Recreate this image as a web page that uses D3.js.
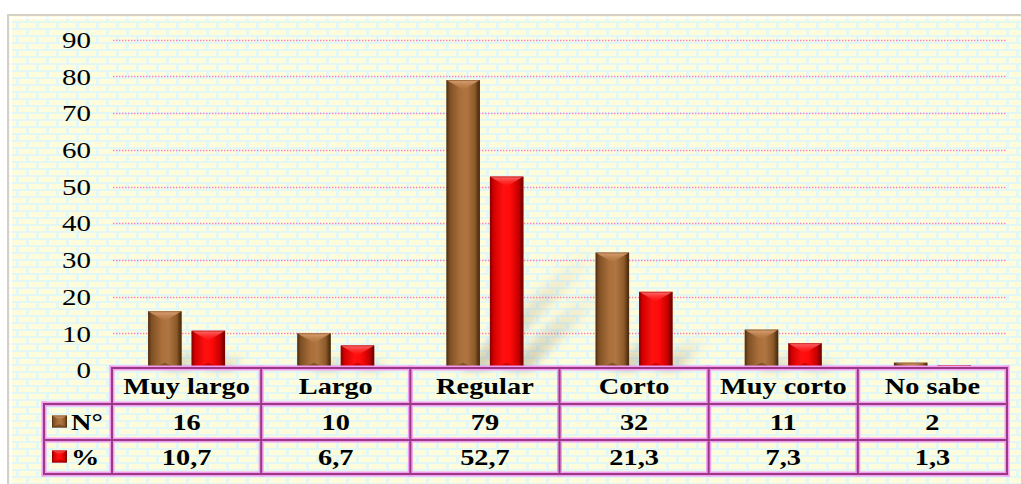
<!DOCTYPE html>
<html>
<head>
<meta charset="utf-8">
<script src="https://cdn.jsdelivr.net/npm/d3@7"></script>
<style>
  html, body { margin: 0; padding: 0; background: #ffffff; }
  svg { display: block; }
  text { font-family: "Liberation Serif", "Times New Roman", serif; fill: #000; }
</style>
</head>
<body>
<svg id="chart" width="1021" height="484"></svg>
<script>
// Data
const categories = ["Muy largo", "Largo", "Regular", "Corto", "Muy corto", "No sabe"];
const counts = [16, 10, 79, 32, 11, 2];
const percents = [10.7, 6.7, 52.7, 21.3, 7.3, 1.3];
const seriesNames = ["N°", "%"];
const yTicks = [0, 10, 20, 30, 40, 50, 60, 70, 80, 90];

const W = 1021, H = 484;
const svg = d3.select("#chart");
const defs = svg.append("defs");

// Brick background pattern
const pat = defs.append("pattern").attr("id", "bricks")
  .attr("patternUnits", "userSpaceOnUse").attr("width", 20).attr("height", 14)
  .attr("x", 8).attr("y", 15);
pat.append("rect").attr("width", 20).attr("height", 14).attr("fill", "#e3f8f4");
pat.append("rect").attr("x", 1).attr("y", 1).attr("width", 17).attr("height", 5).attr("fill", "#fffcdb");
pat.append("rect").attr("x", -9).attr("y", 8).attr("width", 17).attr("height", 5).attr("fill", "#fffcdb");
pat.append("rect").attr("x", 11).attr("y", 8).attr("width", 17).attr("height", 5).attr("fill", "#fffcdb");

// Bar gradients (bevelled look)
const palettes = {
  brown: { stops: ["#4e2c0e", "#7e4f24", "#a96f3a", "#b07641", "#8d5a2a", "#3e2208"], cap: ["#e2a576", "#b27846"], base: "#5e3713" },
  red:   { stops: ["#7a0000", "#d00000", "#ff1010", "#ff0a0a", "#c80000", "#5a0000"], cap: ["#ff7070", "#ff1a1a"], base: "#9a0000" }
};
Object.entries(palettes).forEach(([k, p]) => {
  const g = defs.append("linearGradient").attr("id", "body-" + k).attr("x1", 0).attr("x2", 1).attr("y1", 0).attr("y2", 0);
  [0, 0.1, 0.4, 0.6, 0.85, 1].forEach((o, i) => g.append("stop").attr("offset", o).attr("stop-color", p.stops[i]));
  const c = defs.append("linearGradient").attr("id", "cap-" + k).attr("x1", 0).attr("x2", 0).attr("y1", 0).attr("y2", 1);
  c.append("stop").attr("offset", 0).attr("stop-color", p.cap[0]);
  c.append("stop").attr("offset", 1).attr("stop-color", p.cap[1]).attr("stop-opacity", 0.2);
});
const sg = defs.append("linearGradient").attr("id", "shadowGrad").attr("x1", 0).attr("x2", 0).attr("y1", 1).attr("y2", 0);
sg.append("stop").attr("offset", 0).attr("stop-color", "#7a7460").attr("stop-opacity", 0.35);
sg.append("stop").attr("offset", 1).attr("stop-color", "#7a7460").attr("stop-opacity", 0);
defs.append("filter").attr("id", "soft").attr("x", "-50%").attr("y", "-50%").attr("width", "200%").attr("height", "200%")
  .append("feGaussianBlur").attr("stdDeviation", 5);
const glow = defs.append("filter").attr("id", "glow").attr("x", "-5%").attr("y", "-5%").attr("width", "110%").attr("height", "110%");
glow.append("feGaussianBlur").attr("stdDeviation", 0.6);

// Frame
svg.append("rect").attr("x", 8).attr("y", 15).attr("width", W).attr("height", H)
  .attr("fill", "url(#bricks)").attr("stroke", "#d4d0c6").attr("stroke-width", 2);
svg.append("path").attr("d", `M10,18 H${W} M11,17 V${H}`).attr("stroke", "#ffffff").attr("stroke-width", 2).attr("opacity", 0.9);

// Scales
const x = d3.scaleBand().domain(categories).range([112, 1007]).padding(0);
const x1 = d3.scaleBand().domain(seriesNames).range([0, x.bandwidth()]).paddingInner(0.23).paddingOuter(0.83);
const y = d3.scaleLinear().domain([0, 90]).range([370, 39.7]);
const SX = 1.26; // horizontal text stretch

// Gridlines
svg.append("g").selectAll("line").data(yTicks.filter(t => t > 0)).join("line")
  .attr("x1", 113).attr("x2", 1007)
  .attr("y1", d => Math.round(y(d)) + 0.5).attr("y2", d => Math.round(y(d)) + 0.5)
  .attr("stroke", "#f47fc6").attr("stroke-width", 1.6).attr("stroke-dasharray", "1.4 1.6");

// Y axis labels
svg.append("g").selectAll("text").data(yTicks).join("text")
  .attr("transform", d => `translate(91,${y(d)}) scale(${SX},1)`)
  .attr("text-anchor", "end").attr("dy", "0.36em")
  .style("font-size", "23px")
  .text(d => d);

// Bar data
const rows = categories.map((c, i) => ({ cat: c, values: [
  { s: seriesNames[0], v: counts[i], pal: "brown" },
  { s: seriesNames[1], v: percents[i], pal: "red" }
]}));

// Shadows
const shadowG = svg.append("g").attr("filter", "url(#soft)");
rows.forEach(r => r.values.forEach(d => {
  const bx = x(r.cat) + x1(d.s), bw = x1.bandwidth();
  const h = y(0) - y(d.v), k = h * 0.42;
  shadowG.append("path")
    .attr("d", `M${bx + bw * 0.4},${y(0)} L${bx + bw + 6},${y(0)} L${bx + bw + 6 + k},${y(0) - k} L${bx + bw * 0.4 + k},${y(0) - k} Z`)
    .attr("fill", "url(#shadowGrad)");
}));

// Bevelled bar
function bevelBar(g, bx, by, bw, bh, pal) {
  const p = palettes[pal];
  g.append("rect").attr("x", bx).attr("y", by).attr("width", bw).attr("height", bh).attr("fill", "url(#body-" + pal + ")");
  const d = Math.min(bw * 0.3, bh / 2);
  g.append("path").attr("d", `M${bx},${by} L${bx + bw},${by} L${bx + bw / 2},${by + d} Z`).attr("fill", "url(#cap-" + pal + ")");
  const db = Math.min(bw * 0.22, bh / 2);
  g.append("path").attr("d", `M${bx},${by + bh} L${bx + bw},${by + bh} L${bx + bw / 2},${by + bh - db} Z`)
    .attr("fill", p.base).attr("opacity", 0.55);
  g.append("rect").attr("x", bx + 0.5).attr("y", by + 0.5).attr("width", Math.max(bw - 1, 0)).attr("height", Math.max(bh - 1, 0))
    .attr("fill", "none").attr("stroke", p.base).attr("stroke-opacity", 0.5).attr("stroke-width", 1);
}

const barsG = svg.append("g");
rows.forEach(r => r.values.forEach(d => {
  const g = barsG.append("g");
  bevelBar(g, x(r.cat) + x1(d.s), y(d.v), x1.bandwidth(), y(0) - y(d.v), d.pal);
}));

// Data table
const tTop = 368, r1 = 404, r2 = 440, tBot = 474, tLeft = 44, cLeft = 112, tRight = 1007;
const tableG = svg.append("g");
const lines = [
  [cLeft, tTop, tRight, tTop],
  [cLeft, r1, tRight, r1], [tLeft, r1, cLeft, r1],
  [tLeft, r2, tRight, r2],
  [tLeft, tBot, tRight, tBot],
  [tLeft, r1, tLeft, tBot],
  [tRight, tTop, tRight, tBot]
];
categories.forEach(c => lines.push([x(c), tTop, x(c), tBot]));
tableG.append("g").attr("filter", "url(#glow)").selectAll("line").data(lines).join("line")
  .attr("x1", d => d[0]).attr("y1", d => d[1]).attr("x2", d => d[2]).attr("y2", d => d[3])
  .attr("stroke", "#f49cf0").attr("stroke-width", 5).attr("stroke-linecap", "square");
tableG.append("g").selectAll("line").data(lines).join("line")
  .attr("x1", d => d[0]).attr("y1", d => d[1]).attr("x2", d => d[2]).attr("y2", d => d[3])
  .attr("stroke", "#983a86").attr("stroke-width", 2).attr("stroke-linecap", "square");

const fmtPct = v => d3.format(".1f")(v).replace(".", ",");
const cellText = (cx, cy, t) => tableG.append("text")
  .attr("transform", `translate(${cx},${cy}) scale(${SX},1)`)
  .attr("text-anchor", "middle").attr("dy", "0.35em")
  .style("font-size", "22.5px").style("font-weight", "bold").text(t);

categories.forEach((c, i) => {
  const cx = x(c) + x.bandwidth() / 2;
  cellText(cx, (tTop + r1) / 2, c);
  cellText(cx, (r1 + r2) / 2, counts[i]);
  cellText(cx, (r2 + tBot) / 2, fmtPct(percents[i]));
});

// Row headers with legend keys
[["brown", (r1 + r2) / 2], ["red", (r2 + tBot) / 2]].forEach(([pal, cy], i) => {
  bevelBar(tableG.append("g"), 52, cy - 6.5, 15, 12, pal);
  tableG.append("text")
    .attr("transform", `translate(71,${cy}) scale(${SX},1)`)
    .attr("dy", "0.35em")
    .style("font-size", "22.5px").style("font-weight", "bold").text(seriesNames[i]);
});
</script>
</body>
</html>
